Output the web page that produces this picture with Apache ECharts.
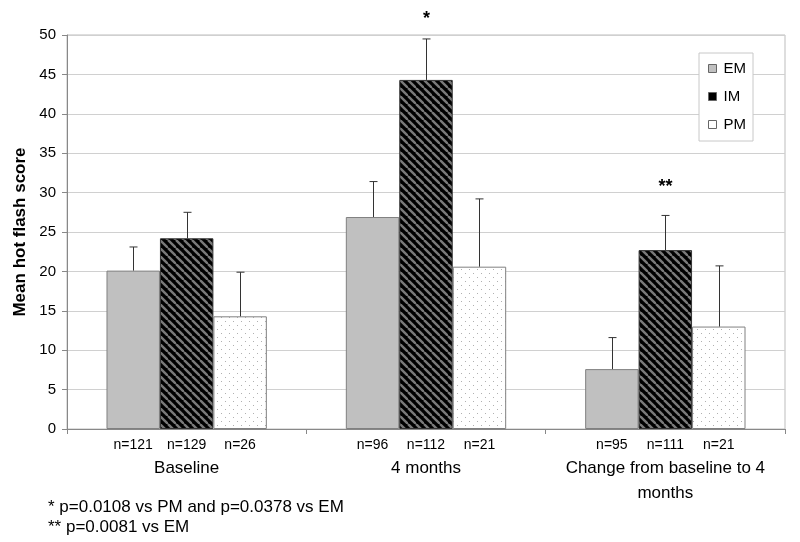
<!DOCTYPE html>
<html>
<head>
<meta charset="utf-8">
<script src="https://cdn.jsdelivr.net/npm/echarts@6/dist/echarts.min.js"></script>
<style>
  html, body { margin: 0; padding: 0; background: #fff; }
  #chart { width: 800px; height: 542px; }
</style>
</head>
<body>
<div id="chart"></div>
<script>
const categories = ["Baseline", "4 months", "Change from baseline to 4\nmonths"];
const seriesNames = ["EM", "IM", "PM"];

const emMean = [20.1, 26.9, 7.6];
const imMean = [24.2, 44.3, 22.7];
const pmMean = [14.3, 20.6, 13.0];

const emUpper = [23.1, 31.4, 11.6];
const imUpper = [27.5, 49.5, 27.1];
const pmUpper = [19.9, 29.2, 20.7];

const emN = [121, 96, 95];
const imN = [129, 112, 111];
const pmN = [26, 21, 21];

const imSig = ["", "*", "**"];

const yTicks = { min: 0, max: 50, interval: 5 };

const footnotes = [
  "* p=0.0108 vs PM and p=0.0378 vs EM",
  "** p=0.0081 vs EM",
];

const FONT = "'Liberation Sans', Arial, sans-serif";

function stripePattern() {
  const c = document.createElement("canvas");
  c.width = 8;
  c.height = 8;
  const ctx = c.getContext("2d");
  ctx.fillStyle = "#000";
  ctx.fillRect(0, 0, 8, 8);
  ctx.strokeStyle = "#7a7a7a";
  ctx.lineWidth = 2.4;
  [-8, 0, 8].forEach((dx) => {
    ctx.beginPath();
    ctx.moveTo(dx, 0);
    ctx.lineTo(dx + 8, 8);
    ctx.stroke();
  });
  return c;
}

function dotPattern() {
  const c = document.createElement("canvas");
  c.width = 8;
  c.height = 8;
  const ctx = c.getContext("2d");
  ctx.fillStyle = "#fff";
  ctx.fillRect(0, 0, 8, 8);
  ctx.fillStyle = "#b0b0b0";
  ctx.fillRect(1, 1, 1, 1);
  ctx.fillRect(5, 5, 1, 1);
  return c;
}

const means = [emMean, imMean, pmMean];
const uppers = [emUpper, imUpper, pmUpper];
const counts = [emN, imN, pmN];

// error bar rows: [category, mean, upper, series index]
const errorData = [];
means.forEach((arr, s) => {
  arr.forEach((v, i) => {
    errorData.push([i, v, uppers[s][i], s]);
  });
});

const chart = echarts.init(document.getElementById("chart"), null, {
  renderer: "canvas",
});

const fills = [
  { color: "#c0c0c0", border: "#808080" },
  { color: { image: stripePattern(), repeat: "repeat" }, border: "#333" },
  { color: { image: dotPattern(), repeat: "repeat" }, border: "#808080" },
];

const barSeries = seriesNames.map((name, s) => ({
  name: name,
  type: "bar",
  data: means[s],
  barGap: "0%",
  barCategoryGap: "33%",
  itemStyle: {
    color: fills[s].color,
    borderColor: fills[s].border,
    borderWidth: 1,
  },
  label: {
    show: true,
    position: "bottom",
    distance: 9,
    fontFamily: FONT,
    fontSize: 14,
    color: "#000",
    formatter: (p) => "n=" + counts[s][p.dataIndex],
  },
  emphasis: { disabled: true },
}));

const errorSeries = {
  type: "custom",
  z: 5,
  data: errorData,
  encode: { x: 0, y: 2 },
  renderItem: function (params, api) {
    const cat = api.value(0);
    const s = api.value(3);
    const band = api.size([1, 0])[0];
    const barW = (band * (1 - 0.33)) / 3;
    const base = api.coord([cat, api.value(1)]);
    const top = api.coord([cat, api.value(2)]);
    const x = Math.round(base[0] + (s - 1) * barW) + 0.5;
    const children = [
      {
        type: "line",
        shape: { x1: x, y1: base[1], x2: x, y2: top[1] },
        style: { stroke: "#333", lineWidth: 1 },
      },
      {
        type: "line",
        shape: { x1: x - 4, y1: top[1], x2: x + 4, y2: top[1] },
        style: { stroke: "#333", lineWidth: 1 },
      },
    ];
    const sig = s === 1 ? imSig[cat] : "";
    if (sig) {
      children.push({
        type: "text",
        style: {
          text: sig,
          x: x,
          y: top[1] - (sig.length > 1 ? 28 : 20),
          align: "center",
          verticalAlign: "middle",
          font: "bold 18px " + FONT,
          fill: "#000",
        },
      });
    }
    return { type: "group", children: children };
  },
};

const option = {
  animation: false,
  backgroundColor: "#fff",
  grid: {
    left: 67,
    right: 15,
    top: 35,
    bottom: 113,
    show: true,
    borderColor: "#bdbdbd",
    borderWidth: 1,
  },
  legend: {
    orient: "vertical",
    left: 699,
    top: 53,
    padding: [8, 7, 9, 9],
    itemGap: 13,
    itemWidth: 8,
    itemHeight: 8,
    itemStyle: { borderWidth: 1, borderColor: "#666" },
    borderColor: "#c8c8c8",
    borderWidth: 1,
    backgroundColor: "#fff",
    icon: "rect",
    textStyle: { fontFamily: FONT, fontSize: 15, color: "#000", padding: [0, 0, 0, 2] },
    data: [
      { name: "EM", itemStyle: { color: "#c0c0c0" } },
      { name: "IM", itemStyle: { color: "#000" } },
      { name: "PM", itemStyle: { color: "#fff" } },
    ],
  },
  xAxis: {
    type: "category",
    data: categories,
    axisLine: { lineStyle: { color: "#888" } },
    axisTick: { show: true, length: 5, lineStyle: { color: "#888" } },
    axisLabel: {
      interval: 0,
      margin: 27,
      fontFamily: FONT,
      fontSize: 17,
      color: "#000",
      lineHeight: 25,
    },
  },
  yAxis: {
    type: "value",
    min: yTicks.min,
    max: yTicks.max,
    interval: yTicks.interval,
    name: "Mean hot flash score",
    nameLocation: "middle",
    nameGap: 34,
    nameTextStyle: {
      fontFamily: FONT,
      fontSize: 17,
      fontWeight: "bold",
      color: "#000",
    },
    axisLine: { show: true, lineStyle: { color: "#888" } },
    axisTick: { show: true, length: 5, lineStyle: { color: "#888" } },
    axisLabel: { fontFamily: FONT, fontSize: 15, color: "#000", margin: 11 },
    splitLine: { lineStyle: { color: "#d0d0d0" } },
  },
  series: [...barSeries, errorSeries],
  graphic: footnotes.map((t, i) => ({
    type: "text",
    left: 48,
    top: 499 + i * 20,
    style: { text: t, font: "17px " + FONT, fill: "#000" },
  })),
};

chart.setOption(option);
</script>
</body>
</html>
